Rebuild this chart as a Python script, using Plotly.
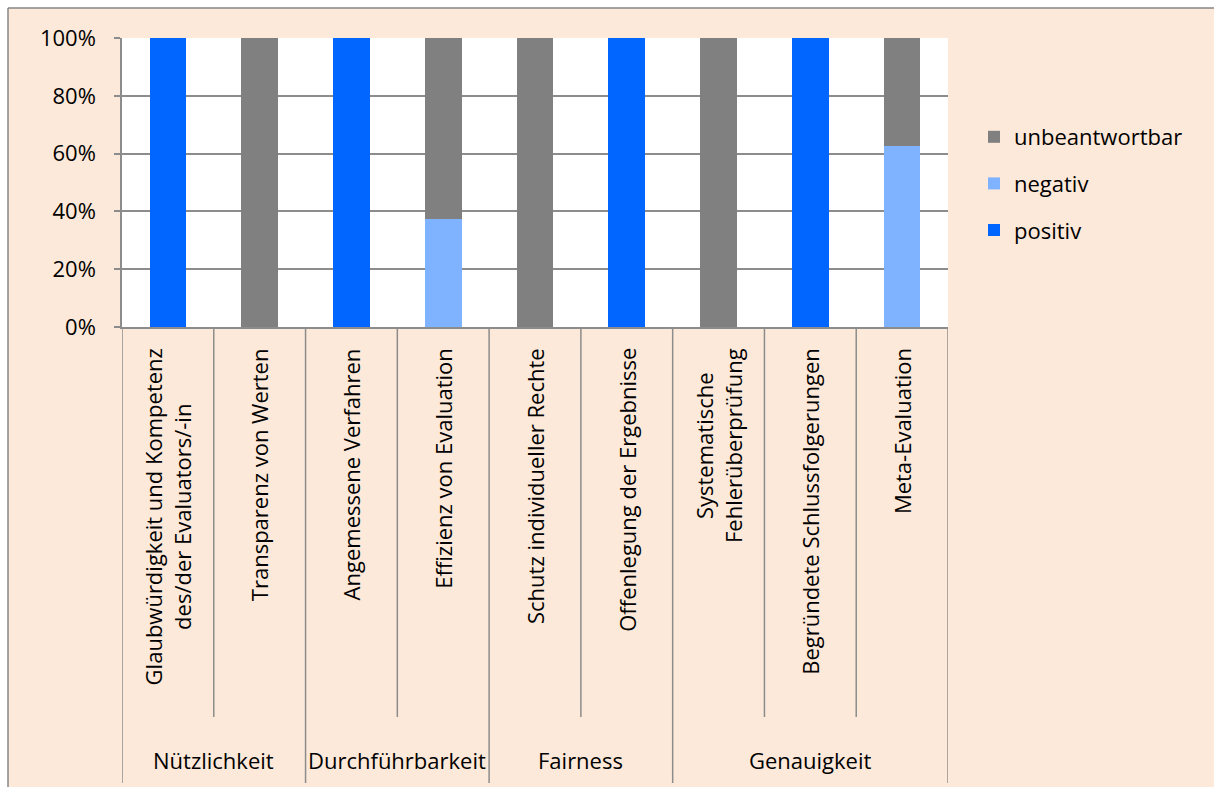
import plotly.graph_objects as go

# Criteria (rotated x labels) and their standard groups
criteria = [
    "Glaubwürdigkeit und Kompetenz<br>des/der Evaluators/-in",
    "Transparenz von Werten",
    "Angemessene Verfahren",
    "Effizienz von Evaluation",
    "Schutz individueller Rechte",
    "Offenlegung der Ergebnisse",
    "Systematische<br>Fehlerüberprüfung",
    "Begründete Schlussfolgerungen",
    "Meta-Evaluation",
]
groups = ["Nützlichkeit", "Durchführbarkeit", "Fairness", "Genauigkeit"]
group_sizes = [2, 2, 2, 3]

# Shares per criterion (stacked to 100 %)
positiv = [1.0, 0.0, 1.0, 0.0, 0.0, 1.0, 0.0, 1.0, 0.0]
negativ = [0.0, 0.0, 0.0, 0.375, 0.0, 0.0, 0.0, 0.0, 0.625]
unbeantwortbar = [0.0, 1.0, 0.0, 0.625, 1.0, 0.0, 1.0, 0.0, 0.375]

# (name, values, colour, legend rank)
series = [
    ("positiv", positiv, "#0066FF", 3),
    ("negativ", negativ, "#7FB2FF", 2),
    ("unbeantwortbar", unbeantwortbar, "#808080", 1),
]

FONT = "Open Sans"
FS = 22
GRID = "#8C8C8C"
PEACH = "#FDE9D9"

W, H = 1214, 787
L, R, T, B = 122, 266, 38, 460
plot_h = H - T - B
plot_w = W - L - R


def py(px):
    """pixel row -> paper y"""
    return (H - B - px) / plot_h


def px_(pxx):
    """pixel column -> paper x"""
    return (pxx - L) / plot_w


n = len(criteria)
xs = [i + 0.5 for i in range(n)]

fig = go.Figure()
for name, vals, color, rank in series:
    fig.add_trace(go.Bar(
        x=xs, y=vals, name=name, marker=dict(color=color, line=dict(width=0)),
        width=0.4, legendgroup=name, legendrank=rank,
    ))

shapes = []
annotations = []

# Inner separators between criteria and group separators
bounds = [0]
for s in group_sizes:
    bounds.append(bounds[-1] + s)
for k in range(n + 1):
    long_line = k in bounds
    shapes.append(dict(
        type="line", xref="x", yref="paper", x0=k, x1=k,
        y0=0, y1=py(783 if long_line else 717),
        line=dict(color=GRID, width=1.5),
    ))

# Criterion labels (rotated)
for i, lab in enumerate(criteria):
    annotations.append(dict(
        x=xs[i], y=py(346), xref="x", yref="paper", text=lab,
        textangle=-90, showarrow=False, xanchor="center", yanchor="top",
        align="center", font=dict(family=FONT, size=FS, color="#000000"),
    ))

# Group labels
for g, a, b in zip(groups, bounds[:-1], bounds[1:]):
    annotations.append(dict(
        x=(a + b) / 2, y=py(760), xref="x", yref="paper", text=g,
        showarrow=False, xanchor="center", yanchor="middle",
        font=dict(family=FONT, size=FS, color="#000000"),
    ))

# Outer chart border (top and left edges) with white margin outside
shapes.append(dict(type="rect", xref="paper", yref="paper",
                   x0=px_(0), x1=px_(W), y0=py(0), y1=py(8),
                   fillcolor="white", line=dict(width=0), layer="below"))
shapes.append(dict(type="rect", xref="paper", yref="paper",
                   x0=px_(0), x1=px_(8), y0=py(H), y1=py(0),
                   fillcolor="white", line=dict(width=0), layer="below"))
shapes.append(dict(type="line", xref="paper", yref="paper",
                   x0=px_(8), x1=px_(W), y0=py(8), y1=py(8),
                   line=dict(color="#868686", width=1.5)))
shapes.append(dict(type="line", xref="paper", yref="paper",
                   x0=px_(8), x1=px_(8), y0=py(8), y1=py(H),
                   line=dict(color="#868686", width=1.5)))

fig.update_layout(
    width=W, height=H,
    margin=dict(l=L, r=R, t=T, b=B, pad=0),
    paper_bgcolor=PEACH, plot_bgcolor="white",
    barmode="stack", bargap=0,
    font=dict(family=FONT, size=FS, color="#000000"),
    xaxis=dict(range=[0, n], showticklabels=False, showgrid=False,
               zeroline=False, ticks="", showline=True, linecolor=GRID,
               linewidth=1.5, fixedrange=True),
    yaxis=dict(range=[0, 1], dtick=0.2, tickformat=".0%", showgrid=True,
               gridcolor=GRID, gridwidth=1.5, zeroline=False, showline=True,
               linecolor=GRID, linewidth=1.5, ticks="outside", ticklen=6,
               tickcolor=GRID, tickwidth=1.5, ticklabelstandoff=14,
               tickfont=dict(family=FONT, size=FS), fixedrange=True),
    legend=dict(x=px_(974), y=py(116), xanchor="left", yanchor="top",
                traceorder="grouped", tracegroupgap=15,
                bgcolor="rgba(0,0,0,0)", font=dict(family=FONT, size=FS)),
    shapes=shapes, annotations=annotations,
    showlegend=True,
)

fig.write_html("out.html")
